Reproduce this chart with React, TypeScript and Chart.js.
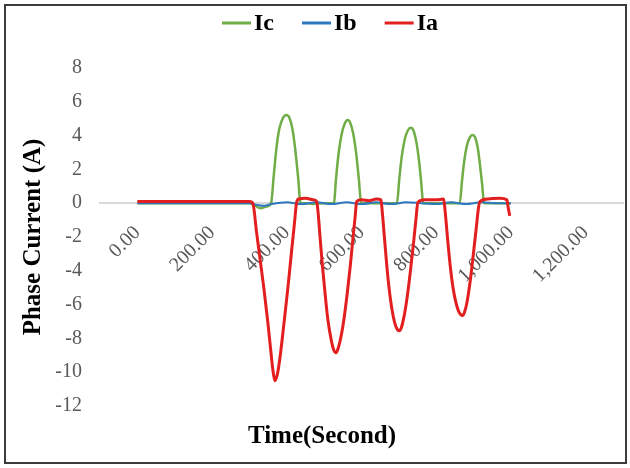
import React, { useEffect, useRef } from 'react';
import { Chart, registerables } from 'chart.js';

Chart.register(...registerables);

// ---- data ----
const seriesNames = ['Ia', 'Ib', 'Ic'];
const seriesColors = ['#E31E1E', '#2E78C0', '#70AD47'];
const seriesWidths = [3, 2, 2.5];

const iaTime = [0, 300, 309, 319, 329, 339, 349, 357, 363, 368, 375, 382, 392, 403, 413, 420, 426, 432, 450, 470, 480,
  484, 489, 495, 501, 510, 519, 526, 532, 538, 546, 554, 562, 570, 577, 583, 587, 600, 620, 640, 652,
  656, 662, 669, 677, 685, 692, 697, 701, 706, 713, 722, 731, 740, 746, 751, 770, 800, 820,
  824, 830, 837, 845, 853, 860, 866, 870, 875, 882, 891, 900, 908, 913, 917, 940, 970, 989, 993, 997];
const iaValues = [0.1, 0.1, 0, -1.7, -3.4, -5.1, -7, -8.7, -9.9, -10.5, -10.1, -9.1, -7.2, -5, -2.8, -1.3, 0, 0.25, 0.3, 0.2, 0.1,
  -0.6, -2, -3.6, -5, -6.9, -8.1, -8.7, -8.85, -8.55, -7.8, -6.7, -5.3, -3.7, -2.1, -0.8, 0.1, 0.2, 0.15, 0.25, 0.2,
  -0.6, -2.2, -4, -5.6, -6.7, -7.3, -7.5, -7.55, -7.4, -6.8, -5.6, -4, -2.2, -0.9, 0.05, 0.2, 0.2, 0.25,
  -0.5, -2, -3.6, -5, -5.9, -6.4, -6.6, -6.65, -6.5, -5.9, -4.6, -2.9, -1.3, -0.3, 0.1, 0.25, 0.3, 0.2, -0.3, -0.75];

const ibTime = [0, 300, 320, 340, 360, 400, 440, 480, 520, 560, 600, 640, 680, 720, 760, 800, 840, 880, 920, 960, 1000];
const ibValues = [0, 0, -0.1, -0.15, -0.05, 0.05, -0.05, 0.05, -0.05, 0.05, -0.05, 0.05, -0.05, 0.05, 0, -0.05, 0.05, -0.05, 0.05, 0, 0];

const icTime = [0, 300, 315, 330, 345, 358, 365, 372, 380, 390, 399, 407, 415, 422, 430, 437, 450, 470, 500,
  526, 532, 539, 547, 555, 563, 570, 578, 586, 593, 599, 650,
  695, 701, 708, 716, 724, 732, 739, 747, 754, 760, 765, 800,
  863, 869, 875, 882, 890, 897, 904, 911, 917, 923, 928, 960, 1000];
const icValues = [0, 0, -0.15, -0.3, -0.2, 0, 1.6, 3.2, 4.4, 5.05, 5.22, 5.05, 4.4, 3.3, 1.6, 0, 0, -0.05, 0,
  0, 1.5, 3.0, 4.1, 4.7, 4.92, 4.75, 4.1, 2.9, 1.4, 0, 0,
  0, 1.4, 2.8, 3.8, 4.3, 4.46, 4.3, 3.6, 2.5, 1.2, 0, 0,
  0, 1.3, 2.5, 3.4, 3.9, 4.03, 3.9, 3.3, 2.3, 1.1, 0, 0, 0];

const seriesTimes = [iaTime, ibTime, icTime];
const seriesValues = [iaValues, ibValues, icValues];

const xTickValues = [0, 200, 400, 600, 800, 1000, 1200];
const xMin = -100;
const xMax = 1300;
const yMin = -12;
const yMax = 8;
const yStep = 2;

const xTitle = 'Time(Second)';
const yTitle = 'Phase Current (A)';
const legendOrder = [2, 1, 0];

const SERIF = '"Liberation Serif", "Times New Roman", serif';

const decorPlugin = {
  id: 'decor',
  beforeDraw(chart: any) {
    const { ctx, width, height } = chart;
    ctx.save();
    ctx.fillStyle = '#ffffff';
    ctx.fillRect(0, 0, width, height);
    ctx.restore();
  },
  afterDraw(chart: any) {
    const { ctx, chartArea } = chart;
    ctx.save();
    // outer frame
    ctx.strokeStyle = '#3c3c3c';
    ctx.lineWidth = 2;
    ctx.strokeRect(5, 5, 621, 458);

    // axis titles
    ctx.fillStyle = '#000000';
    ctx.font = `bold 25px ${SERIF}`;
    ctx.textAlign = 'center';
    ctx.textBaseline = 'middle';
    ctx.fillText(xTitle, 322, 437);
    ctx.save();
    ctx.translate(34, (chartArea.top + chartArea.bottom) / 2);
    ctx.rotate(-Math.PI / 2);
    ctx.fillText(yTitle, 0, 0);
    ctx.restore();

    // legend
    ctx.font = `bold 24px ${SERIF}`;
    ctx.textAlign = 'left';
    const boxW = 29;
    const gapBox = 3;
    const gapItem = 28;
    const widths = legendOrder.map((i) => boxW + gapBox + ctx.measureText(chart.data.datasets[i].label).width);
    const total = widths.reduce((a: number, b: number) => a + b, 0) + gapItem * (widths.length - 1);
    let x = 330 - total / 2;
    const y = 23;
    legendOrder.forEach((i, k) => {
      const ds = chart.data.datasets[i];
      ctx.strokeStyle = ds.borderColor;
      ctx.lineWidth = 3;
      ctx.beginPath();
      ctx.moveTo(x, y);
      ctx.lineTo(x + boxW, y);
      ctx.stroke();
      ctx.fillStyle = '#000000';
      ctx.fillText(ds.label, x + boxW + gapBox, y + 1);
      x += widths[k] + gapItem;
    });
    ctx.restore();
  },
};

export default function App() {
  const canvasRef = useRef<HTMLCanvasElement | null>(null);

  useEffect(() => {
    document.body.style.margin = '0';
    const canvas = canvasRef.current;
    if (!canvas) return;
    const chart = new Chart(canvas, {
      type: 'line',
      data: {
        datasets: seriesNames.map((name, i) => ({
          label: name,
          data: seriesTimes[i].map((t, j) => ({ x: t, y: seriesValues[i][j] })),
          borderColor: seriesColors[i],
          backgroundColor: seriesColors[i],
          borderWidth: seriesWidths[i],
          pointRadius: 0,
          cubicInterpolationMode: 'monotone' as const,
          fill: false,
        })),
      },
      options: {
        animation: false,
        responsive: false,
        maintainAspectRatio: false,
        events: [],
        layout: { padding: { left: 5, right: 7, top: 68, bottom: 62 } },
        plugins: {
          legend: { display: false },
          tooltip: { enabled: false },
          title: { display: false },
        },
        scales: {
          x: {
            type: 'linear',
            position: { y: 0 },
            min: xMin,
            max: xMax,
            afterBuildTicks: (scale: any) => {
              scale.ticks = xTickValues.map((v) => ({ value: v }));
            },
            grid: { display: false, drawTicks: false },
            border: { display: true, color: '#d9d9d9', width: 2 },
            ticks: {
              autoSkip: false,
              minRotation: 45,
              maxRotation: 45,
              padding: 18,
              color: '#595959',
              font: { family: SERIF, size: 20 },
              callback: (v: any) =>
                Number(v).toLocaleString('en-US', { minimumFractionDigits: 2, maximumFractionDigits: 2 }),
            },
          },
          y: {
            type: 'linear',
            min: yMin,
            max: yMax,
            afterFit: (scale: any) => {
              scale.width = 95;
            },
            grid: { display: false, drawTicks: false },
            border: { display: false },
            ticks: {
              stepSize: yStep,
              padding: 18,
              color: '#595959',
              font: { family: SERIF, size: 20 },
            },
          },
        },
      },
      plugins: [decorPlugin],
    });
    return () => chart.destroy();
  }, []);

  return (
    <div style={{ width: 630, height: 468, position: 'relative' }}>
      <canvas ref={canvasRef} width={630} height={468} style={{ display: 'block', width: 630, height: 468 }} />
    </div>
  );
}
